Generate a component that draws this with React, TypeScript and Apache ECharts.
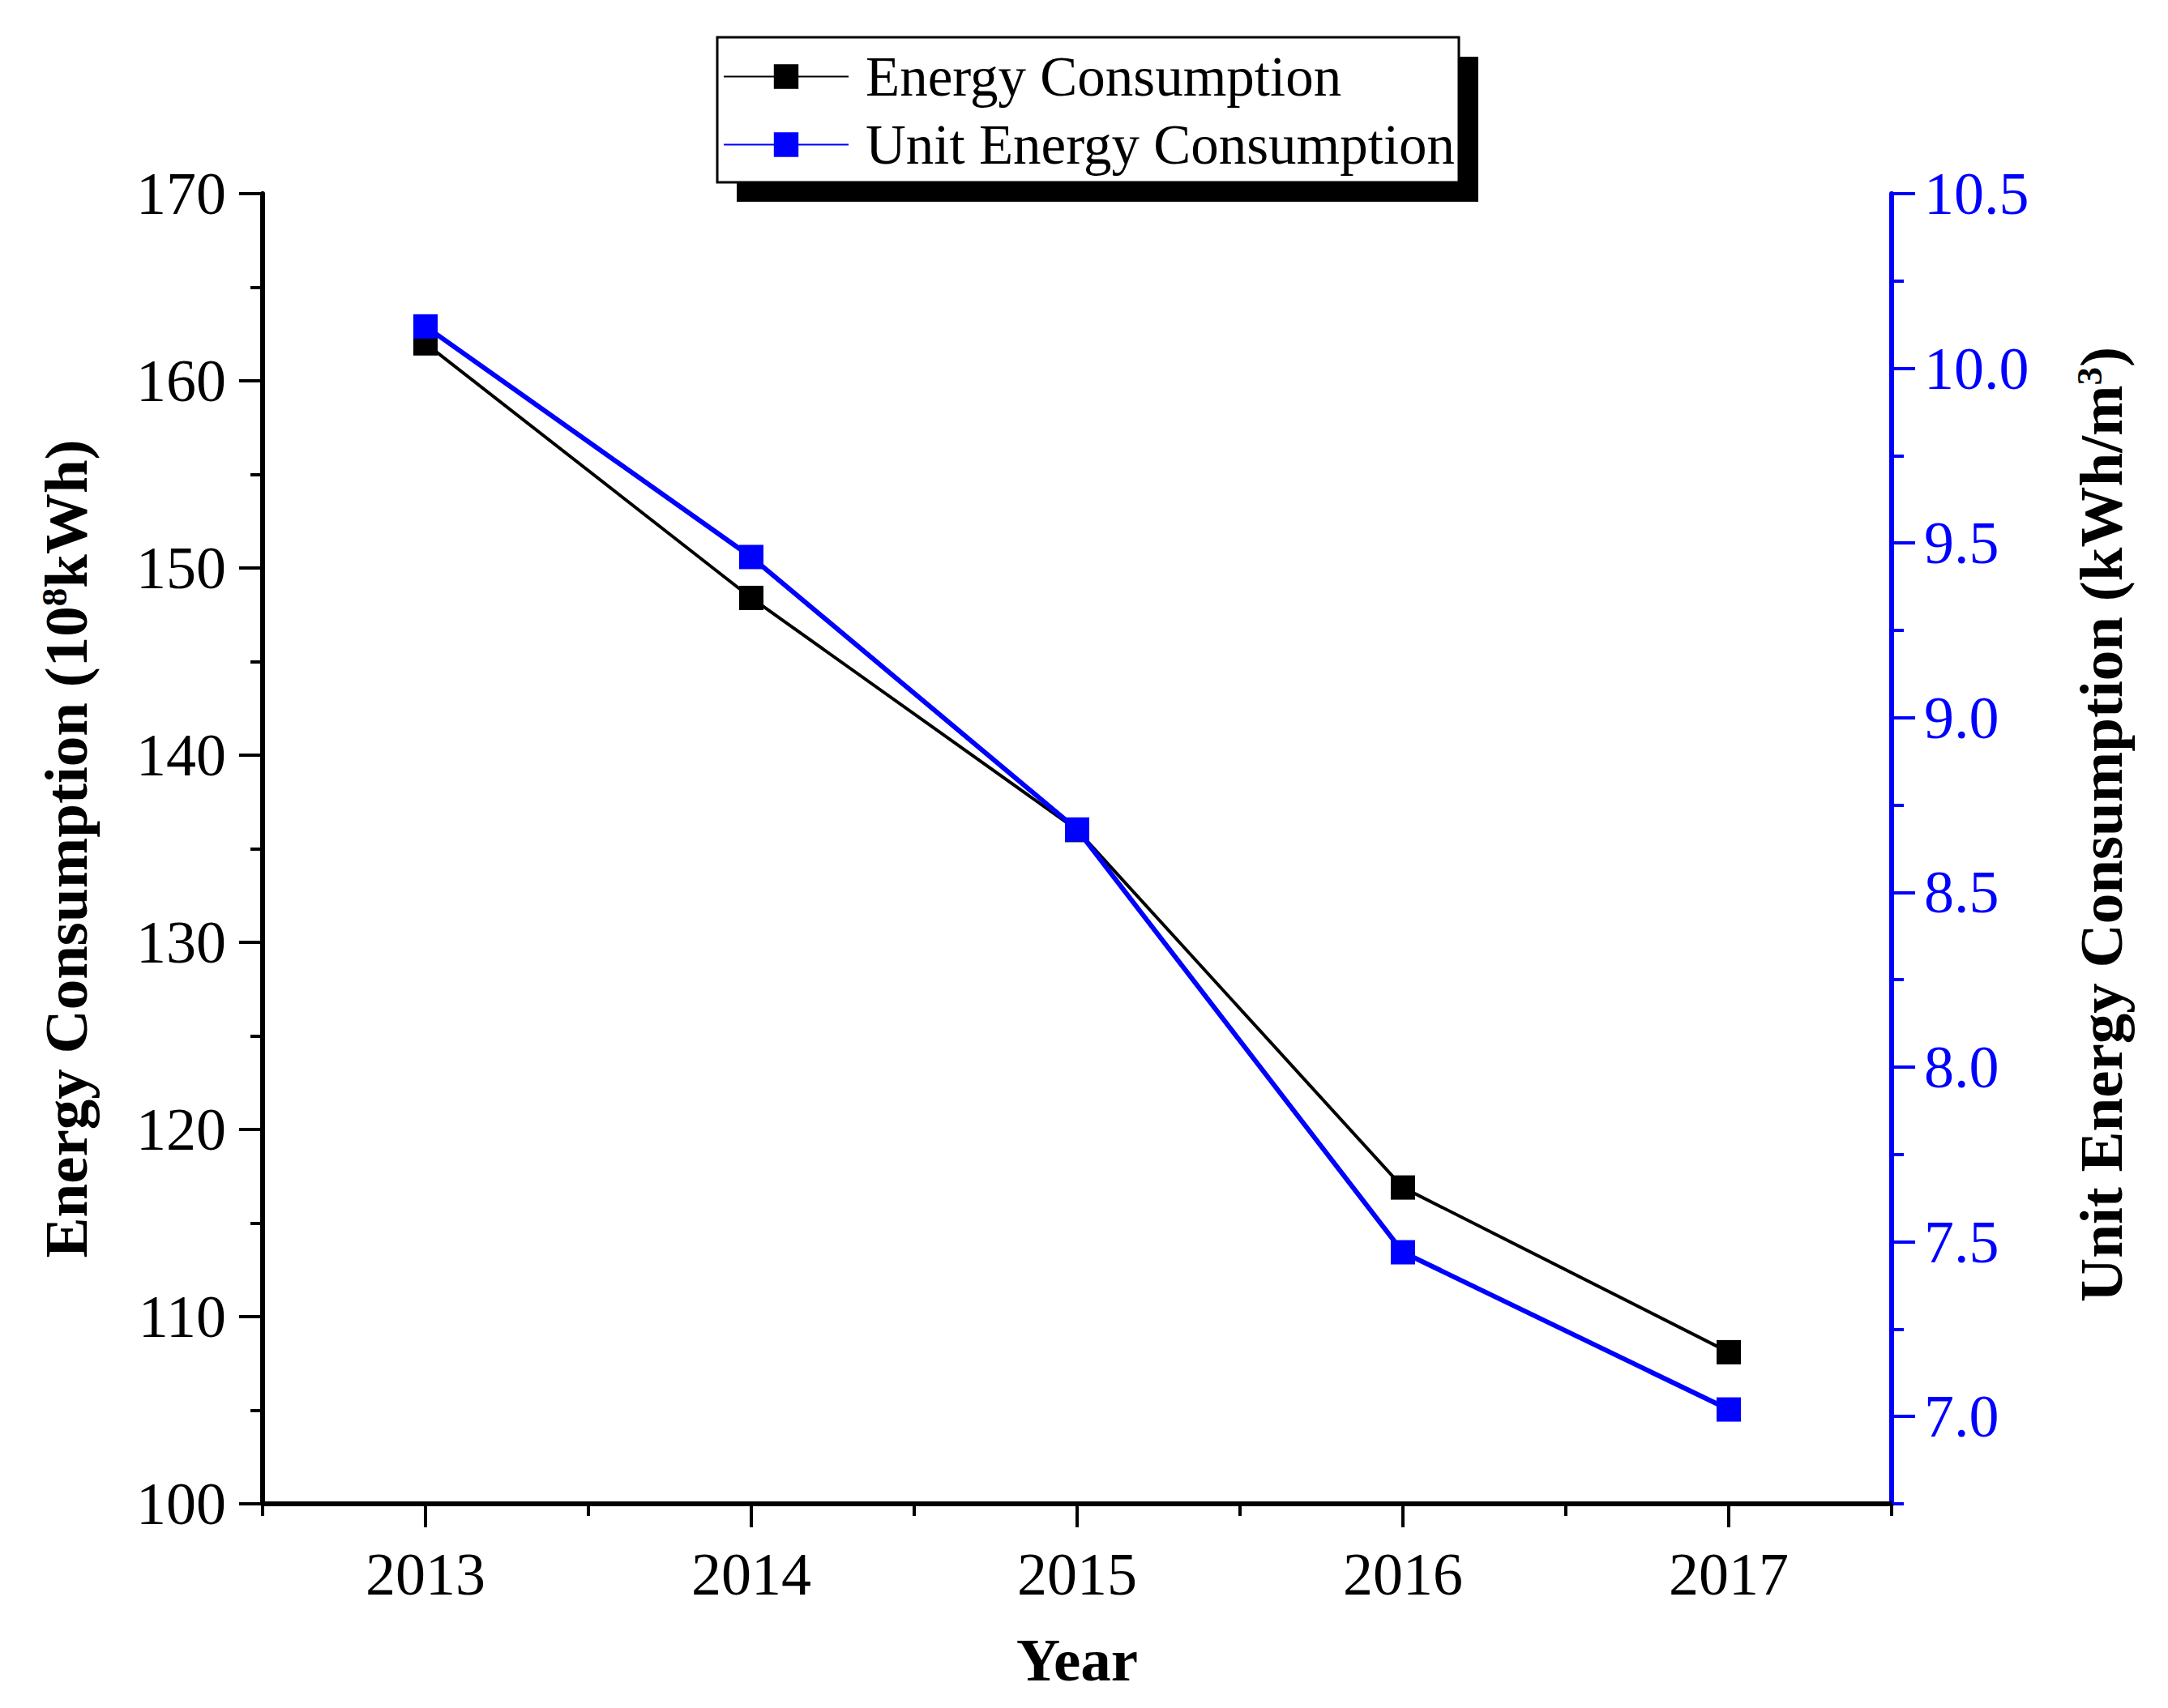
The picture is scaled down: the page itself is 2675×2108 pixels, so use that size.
import React, { useEffect, useRef } from "react";
import * as echarts from "echarts";

const years = [2013, 2014, 2015, 2016, 2017];
const energyConsumption = [162.0, 148.4, 136.0, 116.9, 108.1];
const unitEnergyConsumption = [10.12, 9.46, 8.68, 7.47, 7.02];
const seriesNames = ["Energy Consumption", "Unit Energy Consumption"];
const xMajorTicks = [2013, 2014, 2015, 2016, 2017];
const xMinorTicks = [2012.5, 2013.5, 2014.5, 2015.5, 2016.5, 2017.5];
const rightMajorTicks = [7.0, 7.5, 8.0, 8.5, 9.0, 9.5, 10.0, 10.5];
const rightMinorTicks = [6.75, 7.25, 7.75, 8.25, 8.75, 9.25, 9.75, 10.25];

const FONT = "'Liberation Serif', 'Times New Roman', serif";
const BLUE = "#0000FF";

export default function App() {
  const ref = useRef<HTMLDivElement>(null);

  useEffect(() => {
    if (!ref.current) return;
    const chart = echarts.init(ref.current, undefined, { renderer: "svg" });

    const makeNameStyle = (padding: number[]) => ({
      fontFamily: FONT,
      fontSize: 75,
      fontWeight: "bold",
      color: "#000",
      padding,
      rich: {
        sup: {
          fontFamily: FONT,
          fontSize: 45,
          fontWeight: "bold",
          color: "#000",
          verticalAlign: "top",
        },
      },
    });

    const option: any = {
      animation: false,
      backgroundColor: "#ffffff",
      grid: { left: 324, right: 341, top: 239, bottom: 252, containLabel: false },
      graphic: [
        {
          type: "rect",
          z: 0,
          shape: { x: 909, y: 70, width: 915, height: 179 },
          style: { fill: "#000" },
        },
        {
          type: "rect",
          z: 1,
          shape: { x: 885, y: 46, width: 915, height: 179 },
          style: { fill: "#fff", stroke: "#000", lineWidth: 3 },
        },
      ],
      legend: {
        orient: "vertical",
        left: 892,
        top: 60,
        padding: 0,
        itemWidth: 154,
        itemHeight: 38,
        itemGap: 15,
        z: 10,
        data: seriesNames,
        textStyle: {
          fontFamily: FONT,
          fontSize: 69,
          color: "#000",
          padding: [0, 0, 0, 16],
        },
      },
      xAxis: [
        {
          type: "value",
          min: 2012.5,
          max: 2017.5,
          position: "bottom",
          name: "Year",
          nameLocation: "middle",
          nameGap: 155,
          nameTextStyle: { fontFamily: FONT, fontSize: 75, fontWeight: "bold", color: "#000" },
          axisLine: { show: true, onZero: false, lineStyle: { color: "#000", width: 6 } },
          axisTick: { show: true, length: 29, lineStyle: { color: "#000", width: 4 }, customValues: xMajorTicks },
          axisLabel: {
            customValues: xMajorTicks,
            formatter: (v: number) => String(v),
            margin: 50,
            fontFamily: FONT,
            fontSize: 74,
            color: "#000",
          },
          splitLine: { show: false },
        },
        {
          type: "value",
          min: 2012.5,
          max: 2017.5,
          position: "bottom",
          axisLine: { show: false, onZero: false },
          axisTick: { show: true, length: 15, lineStyle: { color: "#000", width: 4 }, customValues: xMinorTicks },
          axisLabel: { show: false },
          splitLine: { show: false },
        },
      ],
      yAxis: [
        {
          type: "value",
          position: "left",
          min: 100,
          max: 170,
          interval: 10,
          name: "Energy Consumption (10{sup|8}kWh)",
          nameLocation: "middle",
          nameRotate: 90,
          nameGap: 205,
          nameTextStyle: makeNameStyle([0, 0, 0, 0]),
          axisLine: { show: true, onZero: false, lineStyle: { color: "#000", width: 6 } },
          axisTick: { show: true, length: 29, lineStyle: { color: "#000", width: 4 } },
          minorTick: { show: true, splitNumber: 2, length: 15, lineStyle: { color: "#000", width: 4 } },
          axisLabel: { margin: 45, fontFamily: FONT, fontSize: 74, color: "#000" },
          splitLine: { show: false },
          minorSplitLine: { show: false },
        },
        {
          type: "value",
          position: "right",
          min: 6.75,
          max: 10.5,
          interval: 0.25,
          name: "Unit Energy Consumption (kWh/m{sup|3})",
          nameLocation: "middle",
          nameRotate: 90,
          nameGap: 221,
          nameTextStyle: makeNameStyle([0, 0, 0, 60]),
          axisLine: { show: true, onZero: false, lineStyle: { color: BLUE, width: 6 } },
          axisTick: { show: true, length: 29, lineStyle: { color: BLUE, width: 4 }, customValues: rightMajorTicks },
          axisLabel: {
            customValues: rightMajorTicks,
            formatter: (v: number) => v.toFixed(1),
            margin: 40,
            fontFamily: FONT,
            fontSize: 74,
            color: BLUE,
          },
          splitLine: { show: false },
        },
        {
          type: "value",
          position: "right",
          min: 6.75,
          max: 10.5,
          interval: 0.25,
          axisLine: { show: false, onZero: false },
          axisTick: { show: true, length: 15, lineStyle: { color: BLUE, width: 4 }, customValues: rightMinorTicks },
          axisLabel: { show: false },
          splitLine: { show: false },
        },
      ],
      series: [
        {
          name: seriesNames[0],
          type: "line",
          xAxisIndex: 0,
          yAxisIndex: 0,
          data: years.map((y, i) => [y, energyConsumption[i]]),
          symbol: "rect",
          symbolSize: 30,
          lineStyle: { color: "#000", width: 4 },
          itemStyle: { color: "#000" },
          z: 2,
        },
        {
          name: seriesNames[1],
          type: "line",
          xAxisIndex: 0,
          yAxisIndex: 1,
          data: years.map((y, i) => [y, unitEnergyConsumption[i]]),
          symbol: "rect",
          symbolSize: 30,
          lineStyle: { color: BLUE, width: 6 },
          itemStyle: { color: BLUE },
          z: 3,
        },
      ],
    };

    chart.setOption(option);
    return () => chart.dispose();
  }, []);

  return (
    <div
      ref={ref}
      style={{ position: "absolute", left: 0, top: 0, width: 2675, height: 2108, background: "#fff" }}
    />
  );
}
